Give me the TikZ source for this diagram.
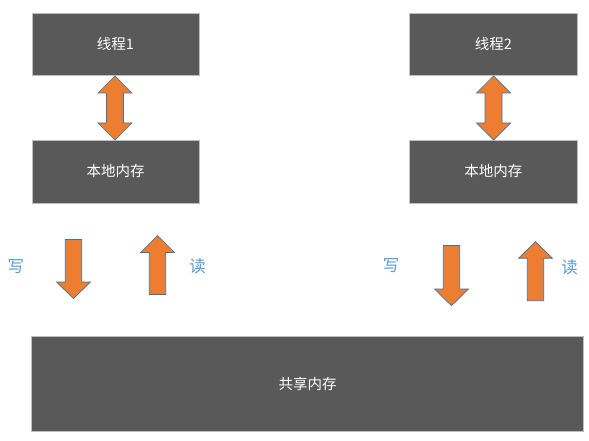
\documentclass[tikz,border=0pt]{standalone}
\usepackage{fontspec}
\setmainfont{Noto Sans CJK SC}
\definecolor{boxfill}{HTML}{595959}
\definecolor{boxline}{HTML}{BFBFBF}
\definecolor{arrfill}{HTML}{ED7D31}
\definecolor{arrline}{HTML}{41719C}
\definecolor{lblblue}{HTML}{5B9BD5}
\newcommand{\myUpArrow}[4]{% cx, tip, shoulder, bottom
  \draw[arrshape] (#1-8.2,#4) -- (#1-8.2,#3) -- (#1-17,#3) -- (#1,#2) -- (#1+17,#3) -- (#1+8.2,#3) -- (#1+8.2,#4) -- cycle;}
\newcommand{\myDownArrow}[4]{% cx, tip, shoulder, top
  \draw[arrshape] (#1-8.2,#4) -- (#1-8.2,#3) -- (#1-17,#3) -- (#1,#2) -- (#1+17,#3) -- (#1+8.2,#3) -- (#1+8.2,#4) -- cycle;}
\newcommand{\myDblArrow}[3]{% cx, top tip, bottom tip
  \draw[arrshape] (#1,#2) -- (#1+17,#2+17) -- (#1+8.5,#2+17) -- (#1+8.5,#3-17) -- (#1+17,#3-17) -- (#1,#3) -- (#1-17,#3-17) -- (#1-8.5,#3-17) -- (#1-8.5,#2+17) -- (#1-17,#2+17) -- cycle;}
\begin{document}
\begin{tikzpicture}[x=1pt,y=-1pt,
  memBox/.style={draw=boxline, line width=0.8pt, fill=boxfill, text=white, font=\fontsize{14.5}{17}\selectfont, inner sep=0pt},
  arrshape/.style={draw=arrline, line width=0.7pt, fill=arrfill, line join=miter},
  rwLabel/.style={text=lblblue, font=\fontsize{16.5}{19}\selectfont, inner sep=0pt}]
\useasboundingbox[fill=white] (0,0) rectangle (589,441);
% boxes
\node[memBox, minimum width=167pt, minimum height=62pt] (t1) at (115.5,44) {线程1};
\node[memBox, minimum width=167pt, minimum height=63pt] (m1) at (115.5,171.5) {本地内存};
\node[memBox, minimum width=168pt, minimum height=62pt] (t2) at (493.3,44) {线程2};
\node[memBox, minimum width=168pt, minimum height=63pt] (m2) at (493.3,171.5) {本地内存};
\node[memBox, minimum width=551.5pt, minimum height=94.5pt] (sm) at (307.5,384) {共享内存};
% double arrows between thread and local memory
\myDblArrow{115}{76}{140}
\myDblArrow{493.5}{76}{140}
% write / read arrows
\myDownArrow{73.5}{298.5}{282}{239.5}
\myUpArrow{157.5}{235.5}{252.5}{294.5}
\myDownArrow{451.5}{305.7}{289}{245.5}
\myUpArrow{535.5}{241.7}{258.3}{300.7}
% labels
\node[rwLabel] (w1) at (16,266.5) {写};
\node[rwLabel] (r1) at (197.5,266.5) {读};
\node[rwLabel] (w2) at (391,266) {写};
\node[rwLabel] (r2) at (569.5,267.5) {读};
\end{tikzpicture}
\end{document}
